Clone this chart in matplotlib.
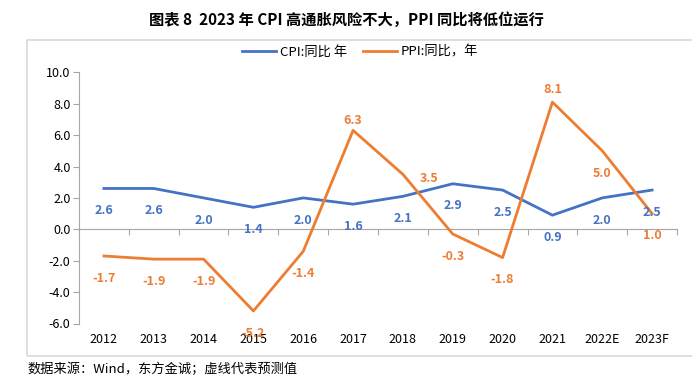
import matplotlib.pyplot as plt
import matplotlib.patches as mpatches
from matplotlib.lines import Line2D

plt.rcParams['font.family'] = ['Noto Sans CJK SC', 'DejaVu Sans']

years = ["2012", "2013", "2014", "2015", "2016", "2017", "2018", "2019",
         "2020", "2021", "2022E", "2023F"]
cpi = [2.6, 2.6, 2.0, 1.4, 2.0, 1.6, 2.1, 2.9, 2.5, 0.9, 2.0, 2.5]
ppi = [-1.7, -1.9, -1.9, -5.2, -1.4, 6.3, 3.5, -0.3, -1.8, 8.1, 5.0, 1.0]
yticks = [-6.0, -4.0, -2.0, 0.0, 2.0, 4.0, 6.0, 8.0, 10.0]

BLUE = "#4472C4"
ORANGE = "#ED7D31"
GRAY = "#A6A6A6"

# label offsets in points (dx, dy); default is below the point
below = (0, -16)
ppi_offsets = {5: (0, 7), 6: (19, -3), 9: (0, 9)}

fig = plt.figure(figsize=(6.92, 3.85), dpi=100)

# outer frame
fig.patches.append(mpatches.Rectangle((27 / 692, 1 - 356 / 385), 0.98, (356 - 40) / 385,
                                      transform=fig.transFigure, fill=False,
                                      edgecolor="#D9D9D9", linewidth=1.2))

ax = fig.add_axes([79 / 692, 1 - 323.5 / 385, (677 - 79) / 692, (323.5 - 72.3) / 385])
x = list(range(len(years)))
ax.plot(x, cpi, color=BLUE, linewidth=2)
ax.plot(x, ppi, color=ORANGE, linewidth=2)

for i, v in enumerate(cpi):
    ax.annotate(f"{v:.1f}", (i, v), xytext=below, textcoords="offset points",
                ha="center", va="center", color=BLUE, fontsize=9, fontweight="bold")
for i, v in enumerate(ppi):
    ax.annotate(f"{v:.1f}", (i, v), xytext=ppi_offsets.get(i, below),
                textcoords="offset points", ha="center", va="center",
                color=ORANGE, fontsize=9, fontweight="bold")

ymin, ymax = -6, 10
ax.set_xlim(-0.5, len(years) - 0.5)
ax.set_ylim(ymin, ymax)
ax.set_yticks(yticks)
ax.set_yticklabels([f"{t:.1f}" for t in yticks], fontsize=9)
ax.set_xticks(x)
ax.set_xticklabels(years, fontsize=9)
ax.tick_params(axis="x", length=0, pad=7)
ax.tick_params(axis="y", length=4, color=GRAY, direction="out", pad=2)
for s in ["top", "right", "bottom"]:
    ax.spines[s].set_visible(False)
ax.spines["left"].set_color(GRAY)

# zero axis with category boundary ticks
zero = ax.secondary_xaxis((0 - ymin) / (ymax - ymin))
zero.set_xticks([b - 0.5 for b in range(len(years) + 1)])
zero.set_xticklabels([])
zero.tick_params(length=4, color=GRAY, direction="out")
zero.spines["bottom"].set_color(GRAY)

handles = [Line2D([], [], color=BLUE, linewidth=2, label="CPI:同比 年"),
           Line2D([], [], color=ORANGE, linewidth=2, label="PPI:同比，年")]
fig.legend(handles=handles, loc="center", bbox_to_anchor=(360 / 692, 1 - 52 / 385),
           ncol=2, frameon=False, fontsize=9.5, handlelength=2.6, columnspacing=1.2,
           handletextpad=0.3)

fig.text(346 / 692, 1 - 20 / 385, "图表 8  2023 年 CPI 高通胀风险不大，PPI 同比将低位运行",
         ha="center", va="center", fontsize=11, fontweight="bold")
fig.text(27 / 692, 1 - 369 / 385, "数据来源：Wind，东方金诚；虚线代表预测值",
         ha="left", va="center", fontsize=9.5)

fig.savefig("out.png", dpi=100)
